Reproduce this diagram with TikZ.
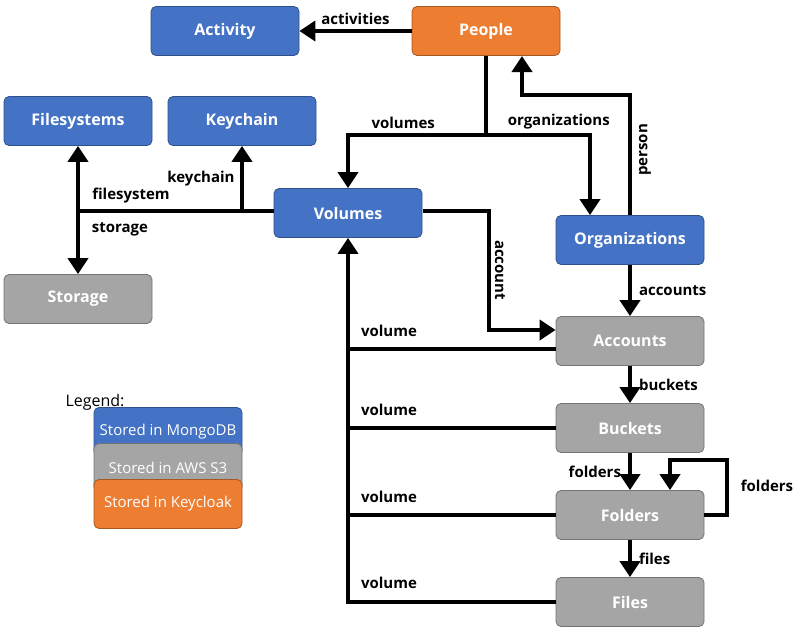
\documentclass[tikz,border=0pt]{standalone}
\usepackage{fontspec}
\setmainfont{Open Sans}
\usetikzlibrary{arrows.meta}
\definecolor{mblue}{HTML}{4472C4}
\definecolor{morange}{HTML}{ED7D31}
\definecolor{mgray}{HTML}{A5A5A5}
\begin{document}
\begin{tikzpicture}[x=1pt,y=-1pt,
  box/.style={draw=mblue!70!black,line width=0.8pt,rounded corners=5pt,minimum width=148pt,minimum height=49pt,text=white,font=\fontsize{16}{18}\selectfont\bfseries,inner sep=0pt},
  blue/.style={box,fill=mblue},
  orange/.style={box,fill=morange,draw=morange!70!black},
  gray/.style={box,fill=mgray,draw=mgray!70!black},
  leg/.style={minimum width=228pt,minimum height=29pt,rounded corners=3pt,font=\fontsize{15}{17}\selectfont},
  lab/.style={font=\fontsize{15}{17}\selectfont\bfseries,inner sep=1pt},
  c/.style={line width=4pt,draw=black},
  a/.style={c,-{Triangle[length=16pt,width=20pt]}},
  ab/.style={c,{Triangle[length=16pt,width=20pt]}-{Triangle[length=16pt,width=20pt]}}]
\useasboundingbox (0,0) rectangle (800,630);
\node[blue] (act) at (225,31) {Activity};
\node[orange] (peo) at (486,31) {People};
\node[blue] (fs) at (78,121) {Filesystems};
\node[blue] (kc) at (242,121) {Keychain};
\node[blue] (vol) at (348,213) {Volumes};
\node[blue] (org) at (630,240) {Organizations};
\node[gray] (sto) at (78,299) {Storage};
\node[gray] (acc) at (630,341) {Accounts};
\node[gray] (buc) at (630,428) {Buckets};
\node[gray] (fol) at (630,515) {Folders};
\node[gray] (fil) at (630,602) {Files};
\node[font=\fontsize{16}{18}\selectfont] (lt) at (95,402) {Legend:};
\node[leg,blue,text=white,font=\fontsize{15}{17}\selectfont] (l1) at (168,432) {Stored in MongoDB};
\node[leg,gray,text=white,font=\fontsize{15}{17}\selectfont] (l2) at (168,468) {Stored in AWS S3};
\node[leg,orange,text=white,font=\fontsize{15}{17}\selectfont] (l3) at (168,504) {Stored in Keycloak};
\coordinate (j1) at (486,135);
\coordinate (jL) at (78,211);
\coordinate (jK) at (242,211);
% people -> activity
\draw[a] (peo.west) -- (act.east) node[lab,midway,above=3pt] {activities};
% people -> volumes / organizations
\draw[c] (peo.south) -- (j1);
\draw[a] (j1) -| (vol.north) node[lab,pos=0.3,above=3pt] {volumes};
\draw[a] (j1) -| ([xshift=-40pt]org.north) node[lab,pos=0.35,above=3pt] {organizations};
% org -> people
\draw[a] ([xshift=0pt]org.north) |- (522,95) -- (522,56);
\node[lab,rotate=90] at (645,150) {person};
% volumes -> filesystems/storage/keychain
\draw[c] (vol.west |- 0,211) -- (jL);
\draw[ab] (fs.south) -- (sto.north);
\draw[a] (jK) -- (kc.south);
\node[lab] at (131,196) {filesystem};
\node[lab] at (201,179) {keychain};
\node[lab] at (120,229) {storage};
% volumes -> accounts
\draw[a] (423,211) -| (489,330) -- (acc.west |- 0,330);
\node[lab,rotate=-90] at (500,270) {account};
% org -> accounts
\draw[a] (org.south) -- (acc.north) node[lab,midway,right=6pt] {accounts};
% volume back refs
\draw[a] (fil.west) -| (vol.south);
\draw[c] (acc.west |- 0,349) -- (348,349);
\draw[c] (buc.west) -- (348,428);
\draw[c] (fol.west) -- (348,515);
\node[lab] at (389,331) {volume};
\node[lab] at (389,410) {volume};
\node[lab] at (389,497) {volume};
\node[lab] at (389,583) {volume};
% chain
\draw[a] (acc.south) -- (buc.north) node[lab,midway,right=6pt] {buckets};
\draw[a] (buc.south) -- (fol.north) node[lab,midway,left=6pt] {folders};
\draw[a] (fol.east) -- (727,515) -- (727,460) -| ([xshift=40pt]fol.north);
\node[lab] at (767,486) {folders};
\draw[a] (fol.south) -- (fil.north) node[lab,midway,right=6pt] {files};
\end{tikzpicture}
\end{document}
